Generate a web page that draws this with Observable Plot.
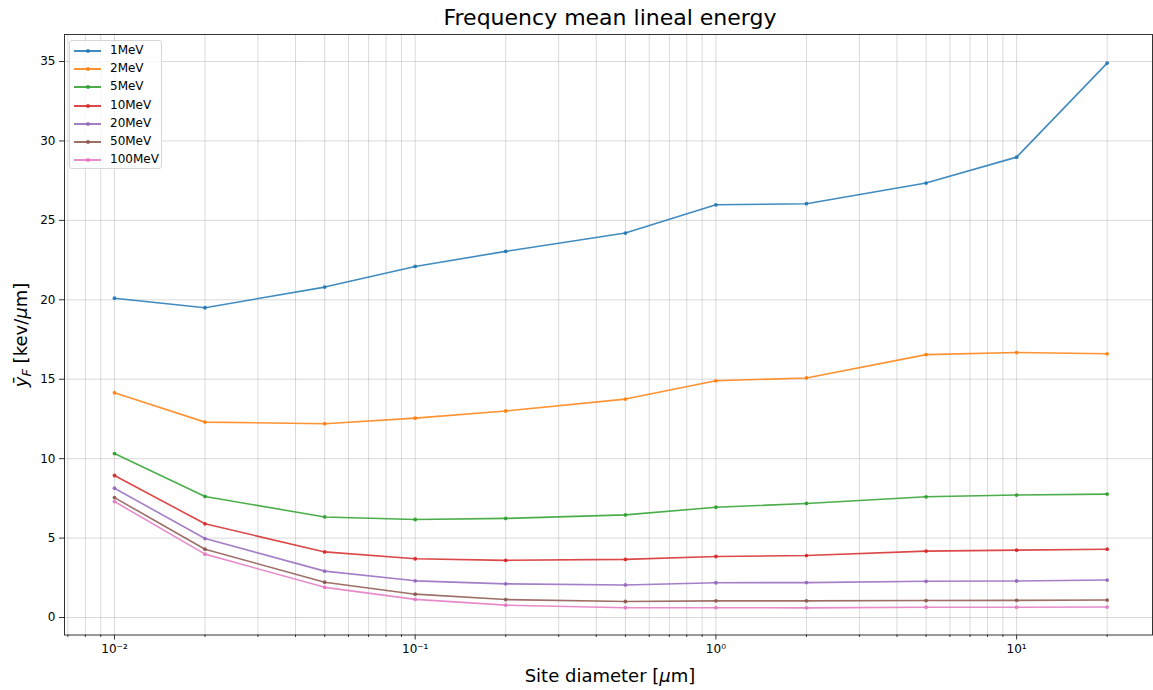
<!DOCTYPE html>
<html>
<head>
<meta charset="utf-8">
<script src="https://cdn.jsdelivr.net/npm/d3@7"></script>
<script src="https://cdn.jsdelivr.net/npm/@observablehq/plot@0.6"></script>
<style>
  html, body { margin: 0; padding: 0; background: #fff; }
  #wrap { position: relative; width: 1153px; height: 690px; font-family: "DejaVu Sans", sans-serif; color: #000; overflow: hidden; }
  #chart { position: absolute; left: 0; top: 0; }
  .title { position: absolute; top: 5px; left: 64px; width: 1092px; text-align: center; font-size: 22px; }
  .xlabel { position: absolute; top: 665px; left: 64px; width: 1092px; text-align: center; font-size: 18px; }
  .ylabel { position: absolute; left: 22px; top: 335px; transform: translate(-50%, -50%) rotate(-90deg); white-space: nowrap; font-size: 18px; }
  .legend { position: absolute; left: 69px; top: 40px; width: 93px; height: 129px; border: 1px solid #d6d6d6; border-radius: 3px; background: rgba(255,255,255,0.8); box-sizing: border-box; }
  .entry { position: absolute; left: 0; height: 18px; width: 93px; font-size: 12px; }
  .entry .sw { position: absolute; left: 4px; top: 8px; width: 27px; height: 2px; opacity: 0.85; }
  .entry .dt { position: absolute; left: 16px; top: 7px; width: 4px; height: 4px; border-radius: 50%; opacity: 0.85; }
  .entry .lb { position: absolute; left: 40px; top: 1px; }
</style>
</head>
<body>
<div id="wrap">
  <div id="chart"></div>
  <div class="title">Frequency mean lineal energy</div>
  <div class="xlabel">Site diameter [<i>μ</i>m]</div>
  <div class="ylabel"><i>ȳ</i><sub style="font-size:13px"><i>F</i></sub> [kev/<i>μ</i>m]</div>
  <div class="legend" id="legend"></div>
</div>
<script>
// ---- data ----
const diameters = [0.01, 0.02, 0.05, 0.1, 0.2, 0.5, 1, 2, 5, 10, 20];
const energies = ["1MeV", "2MeV", "5MeV", "10MeV", "20MeV", "50MeV", "100MeV"];
const colors = ["#1f77b4", "#ff7f0e", "#2ca02c", "#d62728", "#9467bd", "#8c564b", "#e377c2"];
const y1MeV   = [20.1, 19.5, 20.8, 22.1, 23.05, 24.2, 25.98, 26.05, 27.35, 28.98, 34.9];
const y2MeV   = [14.15, 12.3, 12.2, 12.55, 13.0, 13.75, 14.9, 15.08, 16.55, 16.68, 16.6];
const y5MeV   = [10.32, 7.62, 6.33, 6.17, 6.24, 6.46, 6.94, 7.18, 7.6, 7.71, 7.77];
const y10MeV  = [8.94, 5.9, 4.13, 3.7, 3.6, 3.66, 3.84, 3.9, 4.18, 4.24, 4.3];
const y20MeV  = [8.14, 4.97, 2.92, 2.31, 2.12, 2.05, 2.19, 2.2, 2.28, 2.3, 2.36];
const y50MeV  = [7.55, 4.3, 2.22, 1.47, 1.13, 1.01, 1.05, 1.05, 1.07, 1.08, 1.1];
const y100MeV = [7.3, 3.99, 1.9, 1.14, 0.78, 0.62, 0.62, 0.61, 0.65, 0.65, 0.66];
const series = [y1MeV, y2MeV, y5MeV, y10MeV, y20MeV, y50MeV, y100MeV];
const xMajorTicks = [0.01, 0.1, 1, 10];
const xMajorLabels = ["10⁻²", "10⁻¹", "10⁰", "10¹"];
const yTicks = [0, 5, 10, 15, 20, 25, 30, 35];

// ---- build table ----
const rows = [];
energies.forEach((e, i) => diameters.forEach((d, j) => rows.push({d, v: series[i][j], e})));
const xMinorTicks = [];
for (const dec of [0.001, 0.01, 0.1, 1, 10]) for (let k = 2; k <= 9; k++) {
  const t = +(dec * k).toPrecision(3);
  if (t > 0.00682 && t < 28.3) xMinorTicks.push(t);
}
const gridStyle = {stroke: "#b0b0b0", strokeOpacity: 0.6, strokeWidth: 0.8};

const chart = Plot.plot({
  width: 1153,
  height: 690,
  marginLeft: 64,
  marginRight: 1,
  marginTop: 34,
  marginBottom: 55.5,
  style: {fontFamily: "DejaVu Sans, sans-serif", fontSize: "12px", color: "#000", background: "transparent"},
  x: {type: "log", domain: [0.00682, 28.3]},
  y: {domain: [-1.1, 36.7]},
  color: {domain: energies, range: colors},
  marks: [
    Plot.gridX(xMinorTicks, gridStyle),
    Plot.gridX(xMajorTicks, gridStyle),
    Plot.gridY(yTicks, gridStyle),
    Plot.line(rows, {x: "d", y: "v", z: "e", stroke: "e", strokeWidth: 1.6, strokeOpacity: 0.85}),
    Plot.dot(rows, {x: "d", y: "v", fill: "e", r: 1.9, fillOpacity: 0.9}),
    Plot.axisX(xMinorTicks, {tickSize: 2.5, tickFormat: () => "", label: null, stroke: "#333"}),
    Plot.axisX(xMajorTicks, {tickSize: 5, tickPadding: 4, tickFormat: (d) => xMajorLabels[xMajorTicks.indexOf(d)], label: null, stroke: "#333", fontSize: 12}),
    Plot.axisY(yTicks, {tickSize: 5, tickPadding: 4, label: null, stroke: "#333", fontSize: 12}),
    Plot.frame({stroke: "#333", strokeWidth: 1})
  ]
});
document.getElementById("chart").appendChild(chart);

// ---- legend ----
const legend = document.getElementById("legend");
energies.forEach((e, i) => {
  const div = document.createElement("div");
  div.className = "entry";
  div.style.top = Math.round(1 + i * 18.2) + "px";
  div.innerHTML = `<div class="sw" style="background:${colors[i]}"></div><div class="dt" style="background:${colors[i]}"></div><div class="lb">${e}</div>`;
  legend.appendChild(div);
});
</script>
</body>
</html>
